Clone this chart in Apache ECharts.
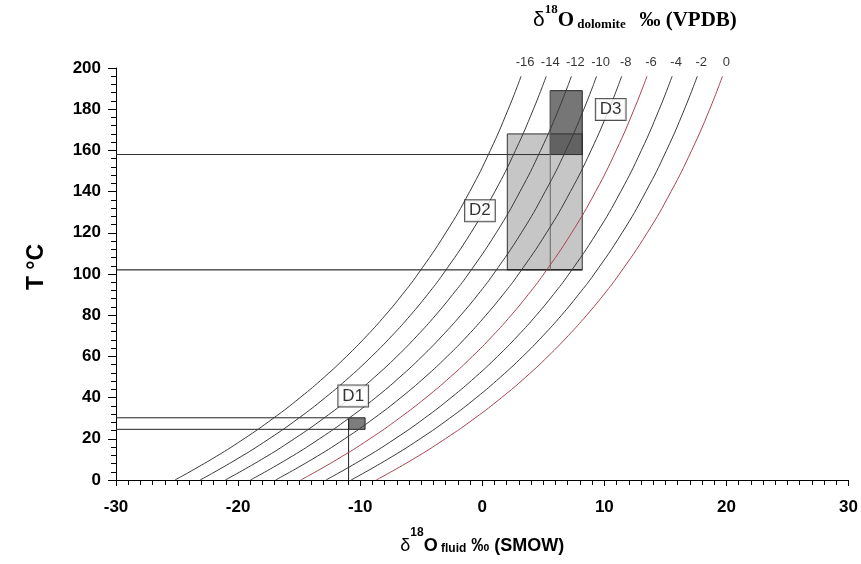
<!DOCTYPE html>
<html><head><meta charset="utf-8">
<script src="https://cdn.jsdelivr.net/npm/echarts@6/dist/echarts.min.js"></script>
<style>html,body{margin:0;padding:0;background:#fff}#c{width:861px;height:564px}</style>
</head><body><div id="c"></div>
<script>
// Temperatures (°C) at which each curve was read
const temps = [0,10,20,30,40,50,60,70,80,90,100,120,140,160,180,196];
// δ18O fluid (SMOW) along each δ18O dolomite (VPDB) curve
const curveLabels = ['-16','-14','-12','-10','-8','-6','-4','-2','0'];
const c16 = [-25.17,-22.20,-19.52,-17.11,-14.92,-12.93,-11.12,-9.46,-7.94,-6.55,-5.27,-2.99,-1.03,0.66,2.13,3.18];
const c14 = [-23.11,-20.14,-17.46,-15.04,-12.86,-10.87,-9.06,-7.40,-5.88,-4.49,-3.21,-0.93,1.03,2.72,4.19,5.24];
const c12 = [-21.05,-18.07,-15.40,-12.98,-10.79,-8.81,-6.99,-5.34,-3.82,-2.43,-1.14,1.14,3.09,4.78,6.26,7.30];
const c10 = [-18.99,-16.01,-13.34,-10.92,-8.73,-6.74,-4.93,-3.28,-1.76,-0.36,0.92,3.20,5.15,6.85,8.32,9.36];
const c8  = [-16.93,-13.95,-11.27,-8.86,-6.67,-4.68,-2.87,-1.21,0.30,1.70,2.98,5.26,7.22,8.91,10.38,11.42];
const c6  = [-14.86,-11.89,-9.21,-6.80,-4.61,-2.62,-0.81,0.85,2.37,3.76,5.04,7.32,9.28,10.97,12.44,13.49];
const c4  = [-12.80,-9.83,-7.15,-4.73,-2.55,-0.56,1.25,2.91,4.43,5.82,7.10,9.38,11.34,13.03,14.50,15.55];
const c2  = [-10.74,-7.77,-5.09,-2.67,-0.48,1.50,3.32,4.97,6.49,7.88,9.17,11.45,13.40,15.09,16.56,17.61];
const c0  = [-8.68,-5.70,-3.03,-0.61,1.58,3.57,5.38,7.03,8.55,9.95,11.23,13.51,15.46,17.15,18.63,19.67];
const curves = [c16,c14,c12,c10,c8,c6,c4,c2,c0];
const redCurves = ['-6','0'];

// Sample boxes: [xMin, xMax] fluid, [tMin, tMax] temperature
const d1X = [-10.95,-9.6], d1T = [24.6,30.2];
const d2X = [2.05,8.19],  d2T = [102,168];
const d3X = [5.57,8.19],  d3T = [158,189];
// Sample labels: name, x, T
const boxLabels = [['D1',-10.57,40.8],['D2',-0.19,130.7],['D3',10.52,179.9]];

const xTicks = [-30,-20,-10,0,10,20,30];
const yTicks = [0,20,40,60,80,100,120,140,160,180,200];

const SANS = "'Liberation Sans', Arial, sans-serif";
const SERIF = "'Liberation Serif', 'Times New Roman', serif";

const series = [];
curves.forEach((vals, i) => {
  const name = curveLabels[i];
  const col = redCurves.includes(name) ? '#a8434f' : '#3a3a3a';
  series.push({type:'line', data: vals.map((v, k) => [v, temps[k]]), showSymbol:false, symbol:'none',
    smooth:true, smoothMonotone:'none', z:5, lineStyle:{color:col, width:1}, silent:true, animation:false});
});
// curve labels at curve tops
series.push({type:'scatter', z:10, animation:false, silent:true, symbolSize:1, itemStyle:{color:'rgba(0,0,0,0)'},
  data: curves.map((vals, i) => ({value:[vals[vals.length-1], temps[temps.length-1]], name:curveLabels[i]})),
  label:{show:true, position:'top', distance:7, offset:[4,0], formatter:p => p.name, color:'#000', fontSize:13, fontFamily:SANS}});

function box(x, t, fill, border) {
  return [{coord:[x[0], t[0]], itemStyle:{color:fill, borderColor:border, borderWidth:1}}, {coord:[x[1], t[1]]}];
}
// boxes
series.push({type:'line', data:[], z:2, animation:false, markArea:{silent:true, data:[
  box(d2X, d2T, '#c6c6c6', '#333'),
]}});
series.push({type:'line', data:[], z:3, animation:false, markArea:{silent:true, data:[
  box(d3X, d3T, 'rgba(45,45,45,0.65)', '#222'),
  box(d1X, d1T, 'rgba(45,45,45,0.62)', '#222'),
]}});
// guide lines
function guide(pts, col) {
  series.push({type:'line', data:pts, showSymbol:false, symbol:'none', z:4, animation:false, silent:true,
    lineStyle:{color:col, width:1}});
}
guide([[-30,d2T[0]],[d2X[1],d2T[0]]], '#000');
guide([[-30,d3T[0]],[d3X[1],d3T[0]]], '#333');
guide([[d3X[0],d2T[0]],[d3X[0],d3T[1]]], '#666');
guide([[-30,d1T[1]],[d1X[0],d1T[1]]], '#222');
guide([[-30,d1T[0]],[d1X[0],d1T[0]]], '#222');
guide([[d1X[0],0],[d1X[0],d1T[1]]], '#222');
// box labels
series.push({type:'scatter', z:11, animation:false, silent:true, symbolSize:1, itemStyle:{color:'rgba(0,0,0,0)'},
  data: boxLabels.map(b => ({value:[b[1], b[2]], name:b[0]})),
  label:{show:true, position:'inside', formatter:p => p.name, color:'#000', fontSize:17, fontFamily:SANS,
    backgroundColor:'#fff', borderColor:'#222', borderWidth:1, padding:[3,4,1,4]}});

const sansRich = (base, small) => ({
  d:{fontFamily:SANS, fontSize:base, fontWeight:'normal', color:'#000', lineHeight:28, verticalAlign:'bottom'},
  s:{fontFamily:SANS, fontSize:small, fontWeight:'bold', color:'#000', lineHeight:28, verticalAlign:'top'},
  o:{fontFamily:SANS, fontSize:base, fontWeight:'bold', color:'#000', lineHeight:28, verticalAlign:'bottom'},
  sub:{fontFamily:SANS, fontSize:small, fontWeight:'bold', color:'#000', lineHeight:28, verticalAlign:'bottom'},
  b:{fontFamily:SANS, fontSize:base, fontWeight:'bold', color:'#000', lineHeight:28, verticalAlign:'bottom'}
});
const serifRich = {
  d:{fontFamily:SANS, fontSize:21, fontWeight:'normal', color:'#000', lineHeight:28, verticalAlign:'bottom'},
  s:{fontFamily:SERIF, fontSize:13, fontWeight:'bold', color:'#000', lineHeight:28, verticalAlign:'top'},
  o:{fontFamily:SERIF, fontSize:21, fontWeight:'bold', color:'#000', lineHeight:28, verticalAlign:'bottom'},
  sub:{fontFamily:SERIF, fontSize:13, fontWeight:'bold', color:'#000', lineHeight:28, verticalAlign:'bottom'},
  b:{fontFamily:SERIF, fontSize:21, fontWeight:'bold', color:'#000', lineHeight:28, verticalAlign:'bottom'}
};

const chart = echarts.init(document.getElementById('c'), null, {renderer:'canvas'});
chart.setOption({
  animation:false,
  backgroundColor:'#fff',
  grid:{left:116, right:11, top:68, bottom:84},
  title:{left:528, top:-2, text:'{d|δ}{s|18}{o|O}{sub| dolomite }{b|  ‰ (VPDB)}', textStyle:{rich:serifRich}},
  xAxis:{type:'value', min:xTicks[0], max:xTicks[xTicks.length-1], interval:10,
    axisLine:{show:true, onZero:false, lineStyle:{color:'#000', width:1}},
    axisTick:{show:true, inside:false, length:6, lineStyle:{color:'#000'}},
    minorTick:{show:true, splitNumber:10, length:5, lineStyle:{color:'#000'}},
    splitLine:{show:false},
    axisLabel:{color:'#000', fontFamily:SANS, fontWeight:'bold', fontSize:17, margin:19},
    name:'{d|δ}{s|18}{o|O}{sub| fluid}{b| ‰ (SMOW)}', nameLocation:'middle', nameGap:47,
    nameTextStyle:{rich:sansRich(18, 12)}},
  yAxis:{type:'value', min:yTicks[0], max:yTicks[yTicks.length-1], interval:20,
    axisLine:{show:true, onZero:false, lineStyle:{color:'#000', width:1}},
    axisTick:{show:true, inside:false, length:8, lineStyle:{color:'#000'}},
    minorTick:{show:true, splitNumber:5, length:5, lineStyle:{color:'#000'}},
    splitLine:{show:false},
    axisLabel:{color:'#000', fontFamily:SANS, fontWeight:'bold', fontSize:17, margin:15},
    name:'T °C', nameLocation:'middle', nameRotate:90, nameGap:68,
    nameTextStyle:{color:'#000', fontFamily:SANS, fontWeight:'bold', fontSize:23, padding:[0,0,0,14]}},
  series
});
</script></body></html>
